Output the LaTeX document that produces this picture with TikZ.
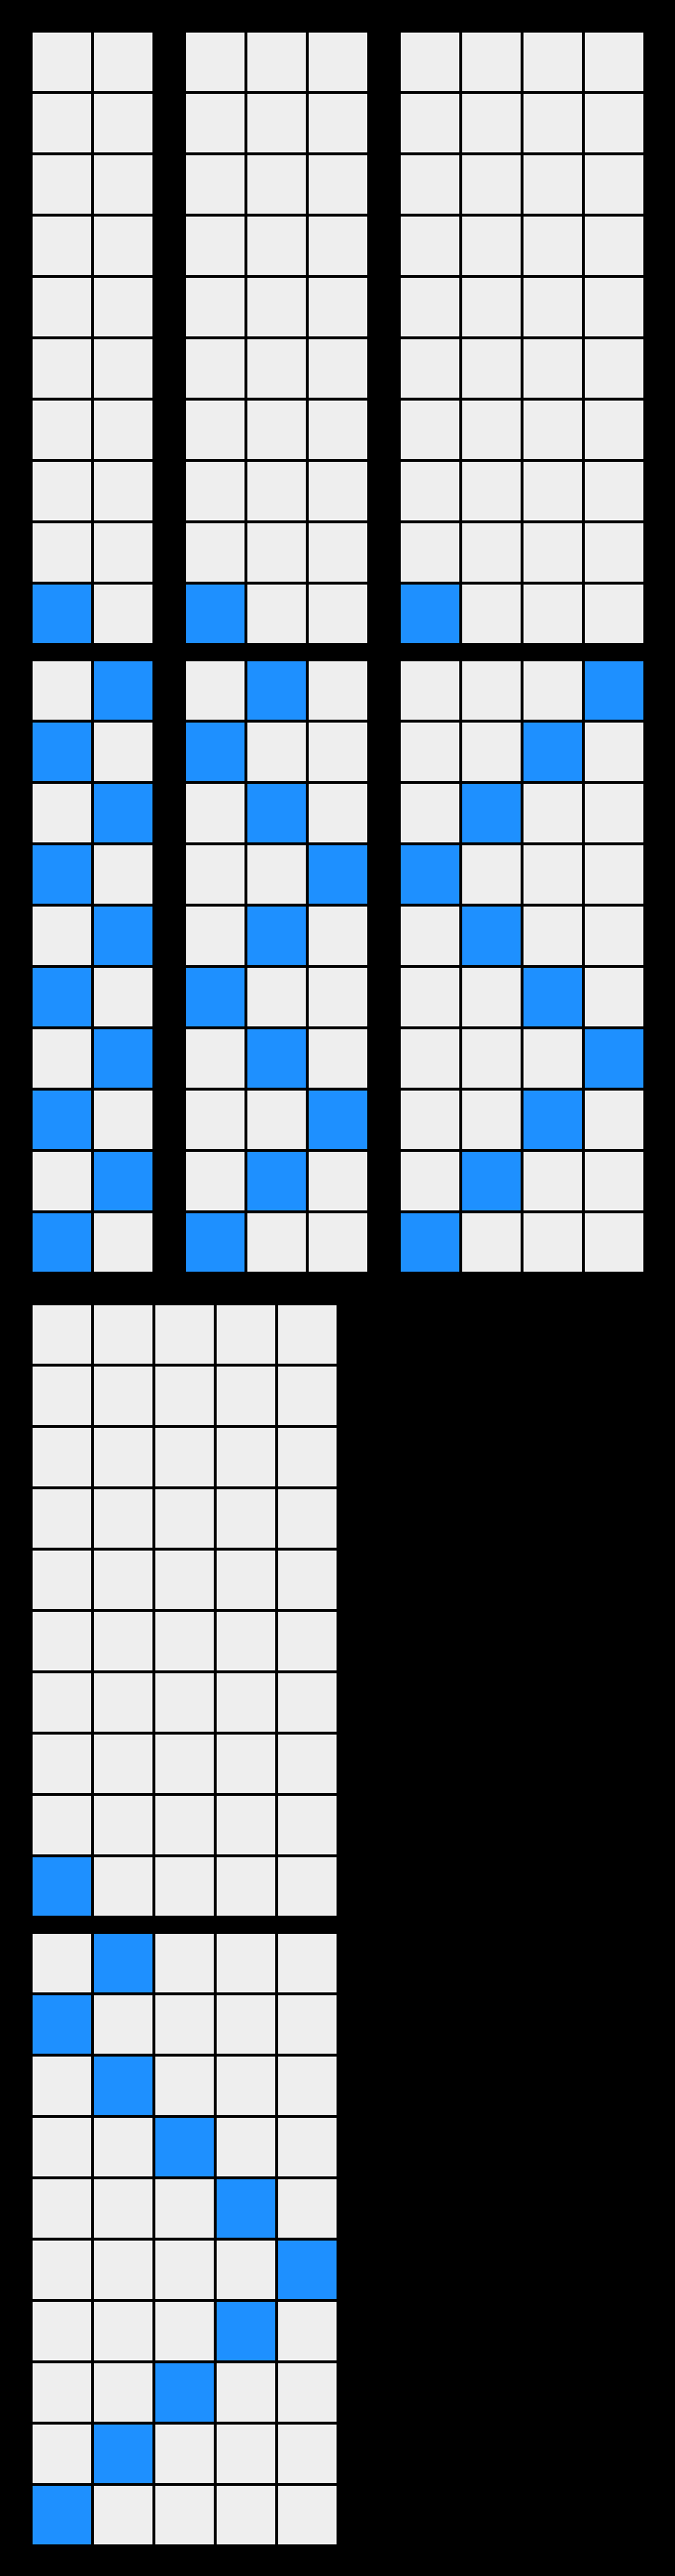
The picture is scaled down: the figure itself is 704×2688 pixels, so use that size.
\documentclass[tikz,border=0pt]{standalone}
\definecolor{cellgray}{HTML}{EEEEEE}
\definecolor{cellblue}{HTML}{1E90FF}
\tikzset{
  plaincell/.style={fill=cellgray},
  hotcell/.style={fill=cellblue}
}
% #1 = left x, #2 = top y, #3 = number of columns, #4 = mode (0: only first cell, 1: bouncing)
\newcommand\gridpanel[4]{%
  \pgfmathtruncatemacro\lastc{#3-1}%
  \pgfmathtruncatemacro\per{2*(#3-1)}%
  \foreach \r in {0,...,9}{%
    \foreach \c in {0,...,\lastc}{%
      \pgfmathtruncatemacro\k{9-\r}%
      \ifnum#4=0
        \pgfmathtruncatemacro\pos{\k==0 ? 0 : -1}%
      \else
        \pgfmathtruncatemacro\m{mod(\k,\per)}%
        \pgfmathtruncatemacro\pos{\m<#3 ? \m : \per-\m}%
      \fi
      \ifnum\c=\pos
        \def\cellstyle{hotcell}%
      \else
        \def\cellstyle{plaincell}%
      \fi
      \fill[\cellstyle] ({#1+64*\c},{#2+64*\r}) rectangle ++(61,61);
    }%
  }%
}
\begin{document}
\begin{tikzpicture}[x=0.5pt,y=-0.5pt]
\fill[black] (0,0) rectangle (704,2688);
\useasboundingbox (0,0) rectangle (704,2688);
% block A
\gridpanel{34}{34}{2}{0}
\gridpanel{194}{34}{3}{0}
\gridpanel{418}{34}{4}{0}
% block B
\gridpanel{34}{690}{2}{1}
\gridpanel{194}{690}{3}{1}
\gridpanel{418}{690}{4}{1}
% block C
\gridpanel{34}{1362}{5}{0}
% block D
\gridpanel{34}{2018}{5}{1}
\end{tikzpicture}
\end{document}
